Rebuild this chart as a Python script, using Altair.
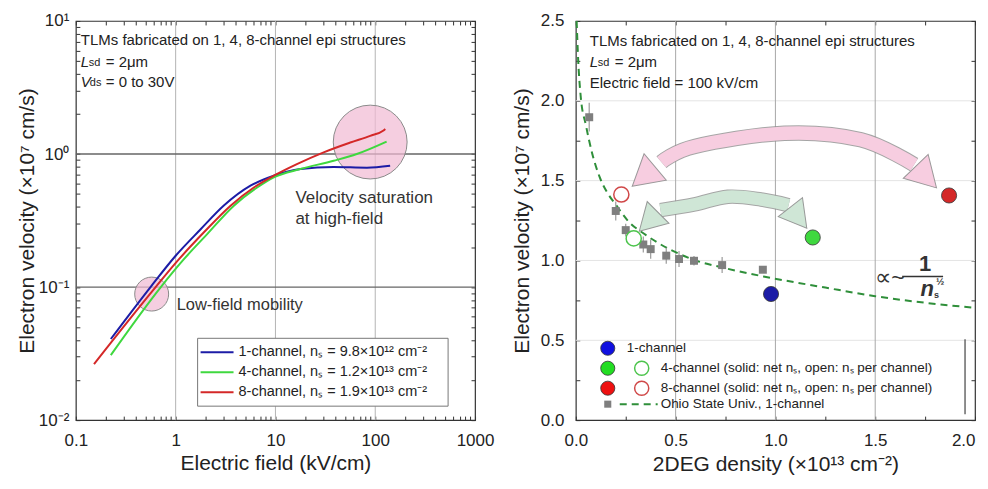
import altair as alt
import pandas as pd

# ---------------- Left panel data ----------------
E_1CH = [0.224, 0.56, 1.0, 1.78, 3.04, 5.62, 9.62, 17.8, 38.3, 82.5, 141]
V_1CH = [0.0407, 0.10, 0.172, 0.272, 0.41, 0.578, 0.687, 0.771, 0.80, 0.79, 0.817]
E_4CH = [0.224, 0.71, 1.21, 2.07, 3.83, 6.56, 9.62, 17.8, 38.3, 65.3, 130]
V_4CH = [0.0308, 0.10, 0.162, 0.25, 0.409, 0.56, 0.668, 0.771, 0.89, 1.0, 1.24]
E_8CH = [0.152, 0.63, 1.08, 1.92, 3.55, 6.07, 9.62, 16.4, 30.4, 56.2, 89, 121, 126]
V_8CH = [0.0264, 0.10, 0.162, 0.258, 0.409, 0.56, 0.687, 0.84, 1.03, 1.22, 1.37, 1.50, 1.54]
SERIES_LEFT = ["1-channel, nₛ = 9.8×10¹² cm⁻²",
               "4-channel, nₛ = 1.2×10¹³ cm⁻²",
               "8-channel, nₛ = 1.9×10¹³ cm⁻²"]
LEFT_COLORS = ["#1c1ca6", "#3fd83f", "#d42828"]
LOWFIELD_CIRCLE = (0.575, 0.0886)
HIGHFIELD_CIRCLE = (89, 1.23)
LEFT_VGRID = [1, 10, 100]
LEFT_HGRID = [0.1, 1]
LEFT_X_LABELS = {0.1: "0.1", 1: "1", 10: "10", 100: "100", 1000: "1000"}
LEFT_Y_LABELS = {0.01: "10⁻²", 0.1: "10⁻¹", 1: "10⁰", 10: "10¹"}

# ---------------- Right panel data ----------------
OHIO_N = [0.067, 0.20, 0.25, 0.338, 0.375, 0.453, 0.517, 0.592, 0.733, 0.937]
OHIO_V = [1.897, 1.31, 1.19, 1.10, 1.071, 1.03, 1.009, 0.998, 0.971, 0.942]
OHIO_ERR = [0.09, 0.06, 0.04, 0.05, 0.06, 0.05, 0.05, 0.03, 0.05, 0.02]
FIT_N = [0.004, 0.012, 0.025, 0.05, 0.08, 0.12, 0.16, 0.2, 0.26, 0.35, 0.47, 0.6, 0.73, 0.94, 1.25, 1.5, 2.0]
FIT_V = [2.5, 2.25, 2.02, 1.85, 1.68, 1.52, 1.42, 1.35, 1.25, 1.16, 1.07, 1.0, 0.957, 0.9, 0.83, 0.776, 0.703]
SOLID_KIND = ["1-channel", "4-channel", "8-channel"]
SOLID_N = [0.978, 1.187, 1.87]
SOLID_V = [0.79, 1.144, 1.407]
OPEN_KIND = ["4-channel", "8-channel"]
OPEN_N = [0.29, 0.228]
OPEN_V = [1.138, 1.413]
PT_COLORS = ["#1010e0", "#22dd22", "#ee1111"]
OPEN_COLORS = ["#4cc44c", "#d04848"]
RIGHT_VGRID = [0.5, 1.0, 1.5]
RIGHT_HGRID = [0.5, 1.0, 1.5, 2.0]
# annotation arrows (path in data units)
PINK_ARROW_N = [0.429, 0.595, 1.045, 1.428, 1.695]
PINK_ARROW_V = [1.616, 1.714, 1.797, 1.756, 1.60]
PINK_HEAD_N = [0.34, 1.755]
PINK_HEAD_V = [1.525, 1.522]
PINK_HEAD_ANGLE = [230, 136]
GREEN_ARROW_N = [0.424, 0.595, 0.762, 0.928, 1.066]
GREEN_ARROW_V = [1.315, 1.351, 1.399, 1.382, 1.346]
GREEN_HEAD_N = [0.365, 1.116]
GREEN_HEAD_V = [1.242, 1.268]
GREEN_HEAD_ANGLE = [225, 142]

FONT = "Liberation Sans"
INK = "#222222"


def one(t=""):
    return pd.DataFrame({"t": [t]})


def txt(s, x, y, size=15, **kw):
    props = dict(align="left", baseline="middle", fontSize=size, color=INK, font=FONT)
    props.update(kw)
    return alt.Chart(one(s)).mark_text(**props).encode(
        x=alt.value(x), y=alt.value(y), text="t:N")


def expr_map(d):
    parts = [f"datum.value == {k} ? '{v}'" for k, v in d.items()]
    return " : ".join(parts) + " : ''"


# ================= LEFT PANEL =================
W, H = 400, 400
xs_l = alt.Scale(type="log", domain=[0.1, 1000])
ys_l = alt.Scale(type="log", domain=[0.01, 10])
x_ticks_l = [m * 10 ** e for e in range(-1, 3) for m in range(1, 10)] + [1000]
y_ticks_l = [m * 10 ** e for e in range(-2, 1) for m in range(1, 10)] + [10]

ax_common = dict(domain=False, grid=False, tickSize=4, offset=-4, tickColor="#333",
                 labelColor=INK, titleColor=INK, labelFont=FONT, titleFont=FONT,
                 labelOverlap=False, labelFlush=False, titleFontWeight="normal")

x_bottom_l = alt.Axis(values=x_ticks_l, labelExpr=expr_map(LEFT_X_LABELS),
                      title="Electric field (kV/cm)", labelFontSize=17, titleFontSize=21,
                      labelPadding=12, titlePadding=4, **ax_common)
y_left_l = alt.Axis(values=y_ticks_l, labelExpr=expr_map(LEFT_Y_LABELS),
                    title="Electron velocity (×10⁷ cm/s)", labelFontSize=17, titleFontSize=21,
                    labelPadding=7, titlePadding=1, **ax_common)
x_top_l = alt.Axis(orient="top", values=x_ticks_l, labels=False, title=None, **ax_common)
y_right_l = alt.Axis(orient="right", values=y_ticks_l, labels=False, title=None, **ax_common)

curves_df = pd.concat([
    pd.DataFrame({"E": E_1CH, "v": V_1CH, "series": SERIES_LEFT[0]}),
    pd.DataFrame({"E": E_4CH, "v": V_4CH, "series": SERIES_LEFT[1]}),
    pd.DataFrame({"E": E_8CH, "v": V_8CH, "series": SERIES_LEFT[2]}),
])

vgrid_l = alt.Chart(pd.DataFrame({"E": LEFT_VGRID})).mark_rule(color="#b4b4b4", strokeWidth=1).encode(
    x=alt.X("E:Q", scale=xs_l, axis=x_top_l))
hgrid_l = alt.Chart(pd.DataFrame({"v": LEFT_HGRID})).mark_rule(color="#666666", strokeWidth=1.3).encode(
    y=alt.Y("v:Q", scale=ys_l, axis=y_right_l))

circ_lo = alt.Chart(pd.DataFrame({"E": [LOWFIELD_CIRCLE[0]], "v": [LOWFIELD_CIRCLE[1]]})).mark_point(
    shape="circle", filled=True, size=1156, fill="#f1b9d3", fillOpacity=0.7, stroke="#8a8a8a",
    strokeWidth=1, strokeOpacity=1).encode(
    x=alt.X("E:Q", scale=xs_l, axis=None), y=alt.Y("v:Q", scale=ys_l, axis=None))
circ_hi = alt.Chart(pd.DataFrame({"E": [HIGHFIELD_CIRCLE[0]], "v": [HIGHFIELD_CIRCLE[1]]})).mark_point(
    shape="circle", filled=True, size=5476, fill="#f1b9d3", fillOpacity=0.7, stroke="#8a8a8a",
    strokeWidth=1, strokeOpacity=1).encode(
    x=alt.X("E:Q", scale=xs_l, axis=None), y=alt.Y("v:Q", scale=ys_l, axis=None))

curves = alt.Chart(curves_df).mark_line(strokeWidth=2, interpolate="monotone").encode(
    x=alt.X("E:Q", scale=xs_l, axis=x_bottom_l),
    y=alt.Y("v:Q", scale=ys_l, axis=y_left_l),
    color=alt.Color("series:N", scale=alt.Scale(domain=SERIES_LEFT, range=LEFT_COLORS), legend=None),
)

left_layers = [vgrid_l, hgrid_l, circ_lo, circ_hi, curves,
               txt("TLMs fabricated on 1, 4, 8-channel epi structures", 5, 19, 15),
               txt("L", 5, 41, 15, fontStyle="italic"),
               txt("sd", 13, 42, 11),
               txt("= 2μm", 30, 41, 15),
               txt("V", 5, 61, 15, fontStyle="italic"),
               txt("ds", 14, 62, 11),
               txt("= 0 to 30V", 30, 61, 15),
               txt("Velocity saturation", 220, 177, 17, color="#333"),
               txt("at high-field", 220, 198, 17, color="#333"),
               txt("Low-field mobility", 101, 285, 16.5, color="#333"),
               ]
# legend (left)
left_layers.append(alt.Chart(one()).mark_rect(fill="white", stroke="#777", strokeWidth=1).encode(
    x=alt.value(122), x2=alt.value(373), y=alt.value(318), y2=alt.value(386)))
for i, (lab, col) in enumerate(zip(SERIES_LEFT, LEFT_COLORS)):
    yy = 332 + 20 * i
    left_layers.append(alt.Chart(one()).mark_rule(color=col, strokeWidth=2).encode(
        x=alt.value(125), x2=alt.value(158), y=alt.value(yy)))
    left_layers.append(txt(lab, 163, yy, 14.5))

left = alt.layer(*left_layers).resolve_axis(x="independent", y="independent").properties(width=W, height=H)

# ================= RIGHT PANEL =================
xs_r = alt.Scale(domain=[0, 2], nice=False, zero=False)
ys_r = alt.Scale(domain=[0, 2.5], nice=False, zero=False)
x_ticks_r = [i * 0.25 for i in range(9)]
y_ticks_r = [i * 0.25 for i in range(11)]
lab_r = "datum.value % 0.5 == 0 ? format(datum.value, '.1f') : ''"

x_bottom_r = alt.Axis(values=x_ticks_r, labelExpr=lab_r, title="2DEG density (×10¹³ cm⁻²)",
                      labelFontSize=17, titleFontSize=21, labelPadding=12, titlePadding=5,
                      labelAlign={"condition": {"test": "datum.value == 2", "value": "right"}, "value": "center"},
                      **ax_common)
y_left_r = alt.Axis(values=y_ticks_r, labelExpr=lab_r, title="Electron velocity (×10⁷ cm/s)",
                    labelFontSize=17, titleFontSize=21, labelPadding=12, titlePadding=8, **ax_common)
x_top_r = alt.Axis(orient="top", values=x_ticks_r, labels=False, title=None, **ax_common)
y_right_r = alt.Axis(orient="right", values=y_ticks_r, labels=False, title=None, **ax_common)

hgrid_r = alt.Chart(pd.DataFrame({"v": RIGHT_HGRID})).mark_rule(color="#e4e4e4", strokeWidth=1).encode(
    y=alt.Y("v:Q", scale=ys_r, axis=y_right_r))
vgrid_r = alt.Chart(pd.DataFrame({"n": RIGHT_VGRID})).mark_rule(color="#a8a8a8", strokeWidth=1).encode(
    x=alt.X("n:Q", scale=xs_r, axis=x_top_r))


def XR(f):
    return alt.X(f, scale=xs_r, axis=None)


def YR(f):
    return alt.Y(f, scale=ys_r, axis=None)


fit = alt.Chart(pd.DataFrame({"n": FIT_N, "v": FIT_V})).mark_line(
    color="#2f8f3a", strokeWidth=2, strokeDash=[7, 5], interpolate="monotone").encode(
    x=XR("n:Q"), y=YR("v:Q"))


def arrow(ns, vs, hn, hv, ha, fill, edge, head_size, width):
    df = pd.DataFrame({"n": ns, "v": vs})
    heads = pd.DataFrame({"n": hn, "v": hv, "a": ha})
    outline = alt.Chart(df).mark_line(color=edge, strokeWidth=width + 2, interpolate="cardinal",
                                      strokeCap="butt", opacity=0.8).encode(x=XR("n:Q"), y=YR("v:Q"))
    body = alt.Chart(df).mark_line(color=fill, strokeWidth=width, interpolate="cardinal",
                                   strokeCap="butt").encode(x=XR("n:Q"), y=YR("v:Q"))
    hd = alt.Chart(heads).mark_point(shape="triangle-up", filled=True, size=head_size, fill=fill,
                                     fillOpacity=1, stroke=edge, strokeWidth=1, strokeOpacity=0.9).encode(
        x=XR("n:Q"), y=YR("v:Q"), angle=alt.Angle("a:Q", scale=None))
    return [outline, body, hd]


ohio_df = pd.DataFrame({"n": OHIO_N, "v": OHIO_V, "err": OHIO_ERR})
ohio_df["lo"] = ohio_df["v"] - ohio_df["err"]
ohio_df["hi"] = ohio_df["v"] + ohio_df["err"]
errbars = alt.Chart(ohio_df).mark_rule(color="#9a9a9a", strokeWidth=1.2).encode(
    x=XR("n:Q"), y=YR("lo:Q"), y2="hi:Q")
squares = alt.Chart(ohio_df).mark_square(size=64, color="#7f7f7f", opacity=1).encode(
    x=alt.X("n:Q", scale=xs_r, axis=x_bottom_r), y=alt.Y("v:Q", scale=ys_r, axis=y_left_r))

solid = alt.Chart(pd.DataFrame({"n": SOLID_N, "v": SOLID_V, "k": SOLID_KIND})).mark_circle(
    size=230, opacity=1, stroke="#333", strokeWidth=0.8).encode(
    x=XR("n:Q"), y=YR("v:Q"),
    color=alt.Color("k:N", scale=alt.Scale(domain=SOLID_KIND, range=PT_COLORS), legend=None))
opens = alt.Chart(pd.DataFrame({"n": OPEN_N, "v": OPEN_V, "k": OPEN_KIND})).mark_point(
    shape="circle", size=230, filled=True, fill="white", strokeWidth=1.5, opacity=1).encode(
    x=XR("n:Q"), y=YR("v:Q"),
    stroke=alt.Stroke("k:N", scale=alt.Scale(domain=OPEN_KIND, range=OPEN_COLORS), legend=None))

right_layers = [hgrid_r, vgrid_r, fit]
right_layers += arrow(PINK_ARROW_N, PINK_ARROW_V, PINK_HEAD_N, PINK_HEAD_V, PINK_HEAD_ANGLE,
                      "#f7cde0", "#8f8f8f", 1200, 13.5)
right_layers += arrow(GREEN_ARROW_N, GREEN_ARROW_V, GREEN_HEAD_N, GREEN_HEAD_V, GREEN_HEAD_ANGLE,
                      "#cfe6d6", "#8f8f8f", 950, 12.5)
right_layers += [errbars, squares, solid, opens]

# fraction annotation
right_layers += [
    txt("∝~", 300, 258, 23, color="#333"),
    txt("1", 350, 244, 22, fontWeight="bold", align="center", color="#333"),
    alt.Chart(one()).mark_rule(color="#333", strokeWidth=1.6).encode(
        x=alt.value(327), x2=alt.value(368), y=alt.value(256)),
    txt("n", 352, 269, 22, fontWeight="bold", fontStyle="italic", align="center", color="#333"),
    txt("s", 359, 275, 9, fontWeight="bold", color="#333"),
    txt("½", 361, 262, 10, fontWeight="bold", color="#333"),
]
# text annotations
right_layers += [
    txt("TLMs fabricated on 1, 4, 8-channel epi structures", 14, 20, 15),
    txt("L", 14, 41, 15, fontStyle="italic"),
    txt("sd", 22, 42, 11),
    txt("= 2μm", 39, 41, 15),
    txt("Electric field = 100 kV/cm", 14, 62, 15),
]
# legend (right)
leg_y = [328, 348, 368, 384]
for yy, col in zip(leg_y[:3], PT_COLORS):
    right_layers.append(alt.Chart(one()).mark_circle(size=200, color=col, opacity=1, stroke="#333",
                                                     strokeWidth=0.8).encode(x=alt.value(32), y=alt.value(yy)))
for yy, col in zip(leg_y[1:3], OPEN_COLORS):
    right_layers.append(alt.Chart(one()).mark_point(shape="circle", size=200, filled=False, color=col,
                                                    strokeWidth=1.5, opacity=1).encode(x=alt.value(66), y=alt.value(yy)))
right_layers.append(alt.Chart(one()).mark_rule(color="#2f8f3a", strokeWidth=2, strokeDash=[7, 5]).encode(
    x=alt.value(44), x2=alt.value(82), y=alt.value(leg_y[3])))
right_layers.append(alt.Chart(one()).mark_square(size=50, color="#7f7f7f", opacity=1).encode(
    x=alt.value(32), y=alt.value(leg_y[3])))
right_layers.append(txt("1-channel", 51, leg_y[0], 13.5))
right_layers.append(txt("4-channel (solid: net nₛ, open: nₛ per channel)", 85, leg_y[1], 13.5))
right_layers.append(txt("8-channel (solid: net nₛ, open: nₛ per channel)", 85, leg_y[2], 13.5))
right_layers.append(txt("Ohio State Univ., 1-channel", 85, leg_y[3], 13.5))
right_layers.append(alt.Chart(one()).mark_rule(color="#444", strokeWidth=1.2).encode(
    x=alt.value(390), y=alt.value(319), y2=alt.value(394)))

right = alt.layer(*right_layers).resolve_axis(x="independent", y="independent").properties(width=W, height=H)

chart = alt.hconcat(left, right, spacing=15).properties(
    padding={"left": 7, "top": 2.5, "right": 0, "bottom": 0}
).configure(font=FONT).configure_view(stroke="#333", strokeWidth=1.2)

chart.save("out.html", embed_options={"renderer": "svg", "actions": False})
